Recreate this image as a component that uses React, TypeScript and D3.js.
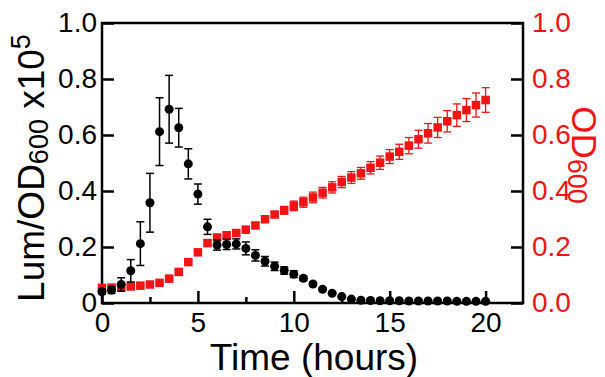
import { useEffect, useRef } from "react"
import * as d3 from "d3"

// sampling times (hours)
const hours = [
  0, 0.5, 1, 1.5, 2, 2.5, 3, 3.5, 4, 4.5, 5, 5.5, 6, 6.5, 7, 7.5, 8, 8.5, 9, 9.5, 10,
  10.5, 11, 11.5, 12, 12.5, 13, 13.5, 14, 14.5, 15, 15.5, 16, 16.5, 17, 17.5, 18, 18.5, 19, 19.5, 20,
]

// Lum/OD600 x10^5 (left axis)
const lum = [
  0.04, 0.046, 0.066, 0.115, 0.212, 0.358, 0.612, 0.692, 0.626, 0.497, 0.389, 0.272, 0.207, 0.209, 0.211,
  0.195, 0.17, 0.149, 0.131, 0.116, 0.103, 0.088, 0.068, 0.049, 0.035, 0.023, 0.014, 0.01, 0.009, 0.008,
  0.008, 0.008, 0.007, 0.007, 0.007, 0.007, 0.007, 0.006, 0.006, 0.006, 0.006,
]
const lumErr = [
  0.008, 0.012, 0.024, 0.04, 0.078, 0.105, 0.121, 0.121, 0.069, 0.054, 0.036, 0.027, 0.018, 0.018, 0.018,
  0.023, 0.02, 0.017, 0.015, 0.013, 0.012, 0.008, 0.006, 0.005, 0.004, 0.003, 0.003, 0.003, 0.003, 0.003,
  0.003, 0.003, 0.003, 0.003, 0.003, 0.003, 0.003, 0.003, 0.003, 0.003, 0.003,
]

// OD600 (right axis)
const od = [
  0.054, 0.055, 0.056, 0.059, 0.062, 0.066, 0.072, 0.087, 0.111, 0.146, 0.181, 0.214, 0.234, 0.242, 0.25,
  0.262, 0.277, 0.299, 0.316, 0.331, 0.347, 0.36, 0.377, 0.394, 0.413, 0.432, 0.448, 0.463, 0.483, 0.501,
  0.523, 0.54, 0.562, 0.585, 0.606, 0.627, 0.649, 0.671, 0.689, 0.707, 0.725,
]
const odErr = [
  0.005, 0.005, 0.005, 0.005, 0.005, 0.005, 0.005, 0.005, 0.005, 0.005, 0.005, 0.01, 0.01, 0.01, 0.01,
  0.01, 0.01, 0.01, 0.01, 0.014, 0.017, 0.018, 0.019, 0.019, 0.02, 0.02, 0.021, 0.021, 0.022, 0.024,
  0.025, 0.027, 0.029, 0.032, 0.035, 0.036, 0.038, 0.04, 0.041, 0.043, 0.044,
]

const xMajorTicks = [0, 5, 10, 15, 20]
const xMinorTicks = [2.5, 7.5, 12.5, 17.5]
const yTicks = [0, 0.2, 0.4, 0.6, 0.8, 1.0]

const RED = "#f01414"
const FONT = "'Liberation Sans', Arial, Helvetica, sans-serif"

export default function App() {
  const svgRef = useRef<SVGSVGElement>(null)

  useEffect(() => {
    if (!svgRef.current) return
    const svg = d3.select(svgRef.current)
    svg.selectAll("*").remove()

    const x = d3.scaleLinear().domain([0, 21.95]).range([102, 523])
    const y = d3.scaleLinear().domain([0, 1]).range([303, 23])

    const rows = hours.map((h, i) => ({ h, lum: lum[i], lumErr: lumErr[i], od: od[i], odErr: odErr[i] }))

    // axes (ticks point inward)
    const left = svg
      .append("g")
      .attr("transform", `translate(${x(0)},0)`)
      .call(
        d3
          .axisLeft(y)
          .tickValues(yTicks)
          .tickSize(-12)
          .tickPadding(5)
          .tickFormat((d) => (d === 0 ? "0" : d3.format(".1f")(d as number))),
      )
    left.select(".domain").remove()

    const right = svg
      .append("g")
      .attr("transform", `translate(${x.range()[1]},0)`)
      .call(d3.axisRight(y).tickValues(yTicks).tickSize(-12).tickPadding(9).tickFormat(d3.format(".1f")))
    right.select(".domain").remove()
    right.selectAll("text").attr("fill", RED)

    const bottom = svg
      .append("g")
      .attr("transform", `translate(0,${y(0)})`)
      .call(d3.axisBottom(x).tickValues(xMajorTicks).tickSize(-12).tickPadding(9).tickFormat(d3.format("d")))
    bottom.select(".domain").remove()

    const minor = svg
      .append("g")
      .attr("transform", `translate(0,${y(0)})`)
      .call(d3.axisBottom(x).tickValues(xMinorTicks).tickSize(-6).tickFormat(() => ""))
    minor.select(".domain").remove()

    svg.selectAll(".tick line").attr("stroke", "#000").attr("stroke-width", 2.5)
    svg
      .selectAll(".tick text")
      .attr("font-family", FONT)
      .attr("font-size", 28)

    // frame
    svg
      .append("rect")
      .attr("x", x(0))
      .attr("y", y(1))
      .attr("width", x.range()[1] - x(0))
      .attr("height", y(0) - y(1))
      .attr("fill", "none")
      .attr("stroke", "#000")
      .attr("stroke-width", 2.5)

    // OD600 series
    const odG = svg.append("g")
    const odBars = odG.selectAll("g").data(rows).join("g").attr("stroke", RED).attr("stroke-width", 1.3)
    odBars
      .append("line")
      .attr("x1", (d) => x(d.h))
      .attr("x2", (d) => x(d.h))
      .attr("y1", (d) => y(d.od - d.odErr))
      .attr("y2", (d) => y(d.od + d.odErr))
    for (const s of [-1, 1]) {
      odBars
        .append("line")
        .attr("x1", (d) => x(d.h) - 4)
        .attr("x2", (d) => x(d.h) + 4)
        .attr("y1", (d) => y(d.od + s * d.odErr))
        .attr("y2", (d) => y(d.od + s * d.odErr))
    }
    odG
      .selectAll("rect")
      .data(rows)
      .join("rect")
      .attr("x", (d) => x(d.h) - 4.25)
      .attr("y", (d) => y(d.od) - 4.25)
      .attr("width", 8.5)
      .attr("height", 8.5)
      .attr("fill", RED)

    // Lum series
    const lumG = svg.append("g")
    const lumBars = lumG.selectAll("g").data(rows).join("g").attr("stroke", "#000").attr("stroke-width", 1.5)
    lumBars
      .append("line")
      .attr("x1", (d) => x(d.h))
      .attr("x2", (d) => x(d.h))
      .attr("y1", (d) => y(d.lum - d.lumErr))
      .attr("y2", (d) => y(d.lum + d.lumErr))
    for (const s of [-1, 1]) {
      lumBars
        .append("line")
        .attr("x1", (d) => x(d.h) - 4)
        .attr("x2", (d) => x(d.h) + 4)
        .attr("y1", (d) => y(d.lum + s * d.lumErr))
        .attr("y2", (d) => y(d.lum + s * d.lumErr))
    }
    lumG
      .selectAll("circle")
      .data(rows)
      .join("circle")
      .attr("cx", (d) => x(d.h))
      .attr("cy", (d) => y(d.lum))
      .attr("r", 4.5)
      .attr("fill", "#000")

    // axis titles
    svg
      .append("text")
      .attr("x", 314)
      .attr("y", 370)
      .attr("text-anchor", "middle")
      .attr("font-family", FONT)
      .attr("font-size", 37)
      .attr("fill", "#000")
      .text("Time (hours)")

    const lt = svg
      .append("text")
      .attr("transform", "translate(44,168) rotate(-90)")
      .attr("text-anchor", "middle")
      .attr("font-family", FONT)
      .attr("font-size", 37)
      .attr("fill", "#000")
    lt.append("tspan").text("Lum/OD")
    lt.append("tspan").attr("font-size", 27).attr("dy", 4).text("600")
    lt.append("tspan").attr("dy", -4).text(" x10")
    lt.append("tspan").attr("font-size", 27).attr("dy", -14).text("5")

    const rt = svg
      .append("text")
      .attr("transform", "translate(572,155) rotate(90)")
      .attr("text-anchor", "middle")
      .attr("font-family", FONT)
      .attr("font-size", 35)
      .attr("fill", RED)
    rt.append("tspan").text("OD")
    rt.append("tspan").attr("font-size", 27).attr("dy", 4).text("600")
  }, [])

  return (
    <svg
      ref={svgRef}
      width={605}
      height={377}
      style={{ position: "absolute", left: 0, top: 0, background: "#fff" }}
    />
  )
}
